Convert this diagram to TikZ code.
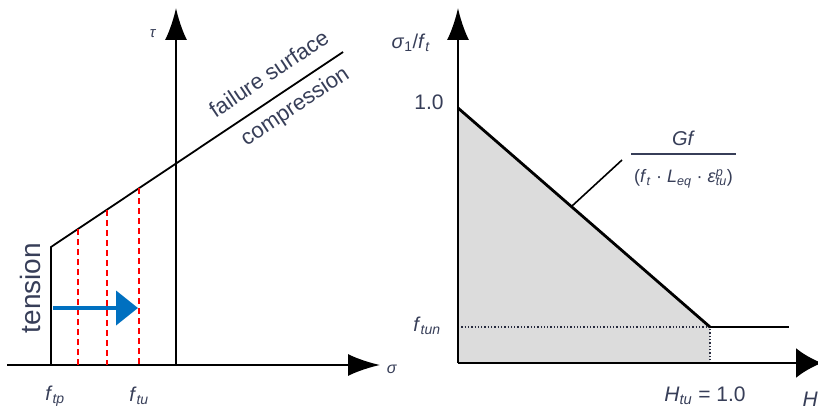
\documentclass[tikz,border=0pt]{standalone}
\usepackage{fontspec}
\setmainfont{Liberation Sans}
\usetikzlibrary{arrows.meta, calc}
\definecolor{dimtext}{RGB}{55, 62, 88}
\definecolor{pushblue}{RGB}{0, 112, 192}
\definecolor{softgray}{RGB}{220, 220, 220}
\newcommand{\vr}[1]{\textit{#1}}
\newcommand{\ix}[1]{\textsubscript{\textit{#1}}}

\begin{document}
\begin{tikzpicture}[x=1pt, y=-1pt,
    axis/.style={line width=2.4pt, -{Latex[length=32pt, width=22pt]}},
    lbl/.style={dimtext, font=\fontsize{20}{22}\selectfont},
    cut/.style={red, line width=1.5pt, dash pattern=on 6pt off 4pt}]
  \useasboundingbox (0,0) rectangle (818,414);
  \clip (0,0) rectangle (818,414);
  % left: failure surface
  \coordinate (lo) at (7,365);
  \coordinate (ox) at (176,365);
  \coordinate (ftpb) at (51,365);
  \coordinate (ftpt) at (51,247);
  \coordinate (fend) at (343,52);
  \draw[axis] (lo) -- (380,365) coordinate (sx);
  \draw[axis] (ox) -- (176,8) coordinate (tx);
  \draw[line width=1.8pt] (ftpb) -- (ftpt) -- (fend)
    node[pos=0.79, sloped, above=11pt, dimtext, font=\fontsize{22}{24}\selectfont] (fs) {failure surface}
    node[pos=0.80, sloped, below=5pt, dimtext, font=\fontsize{22}{24}\selectfont] (cp) {compression};
  \foreach \t/\n in {0.092/a, 0.191/b, 0.302/c} {
    \coordinate (c\n) at ($(ftpt)!\t!(fend)$);
    \draw[cut] (c\n) -- (c\n |- ox);
  }
  \draw[pushblue, line width=4pt, -{Triangle[length=22pt, width=34pt]}] (53,308) -- (138,308);
  \node[dimtext, rotate=90, font=\fontsize{28}{30}\selectfont] (ten) at (30,288) {tension};
  \node[lbl, font=\fontsize{15}{18}\selectfont] (tau) at (153,34) {\vr{τ}};
  \node[lbl, font=\fontsize{16}{18}\selectfont] (sig) at (392,369) {\vr{σ}};
  \node[lbl] (ftp) at (55,396) {\vr{f}\ix{tp}};
  \node[lbl] (ftu) at (139,396) {\vr{f}\ix{tu}};
  % right: softening
  \coordinate (ro) at (458,363);
  \coordinate (peak) at (458,108);
  \coordinate (knee) at (710,327);
  \coordinate (kneeb) at (710,363);
  \fill[softgray] (peak) -- (knee) -- (kneeb) -- (ro) -- cycle;
  \draw[dimtext!70!black, line width=1.3pt, dotted] (ro |- knee) -- (knee) -- (kneeb);
  \draw[axis] (ro) -- (458,8);
  \draw[axis, -{Latex[length=26pt, width=30pt]}] (ro) -- (822,363);
  \draw[line width=2.8pt] (peak) -- (knee);
  \draw[line width=2pt] (knee) -- (789,327) coordinate (tail);
  \node[lbl] (s1ft) at (411,43) {\vr{σ}\textsubscript{1}/\vr{f}\ix{t}};
  \node[lbl, font=\fontsize{21}{22}\selectfont] (one) at (429,102) {1.0};
  \node[lbl] (ftun) at (427,326) {\vr{f}\ix{tun}};
  \node[lbl, font=\fontsize{21}{22}\selectfont] (htu) at (705,396) {\vr{H}\ix{tu} = 1.0};
  \node[lbl, font=\fontsize{21}{22}\selectfont, anchor=west] (hax) at (799,399) {\vr{H}};
  \coordinate (barw) at (631,154);
  \coordinate (bare) at (736,154);
  \draw[dimtext, line width=2.4pt] (barw) -- (bare);
  \node[lbl] (gf) at ($(barw)!0.5!(bare)+(0,-16)$) {\vr{Gf}};
  \node[lbl, font=\fontsize{18}{20}\selectfont] (den) at ($(barw)!0.5!(bare)+(0,25)$)
    {(\vr{f}\ix{t} · \vr{L}\ix{eq} · \vr{ε}\makebox[0pt][l]{\textsuperscript{\vr{p}}}\ix{tu})};
  \coordinate (lead) at ($(peak)!0.45!(knee)$);
  \draw[line width=1.6pt] (lead) -- ($(barw)+(-9,6)$) coordinate (leadend);
\end{tikzpicture}
\end{document}
